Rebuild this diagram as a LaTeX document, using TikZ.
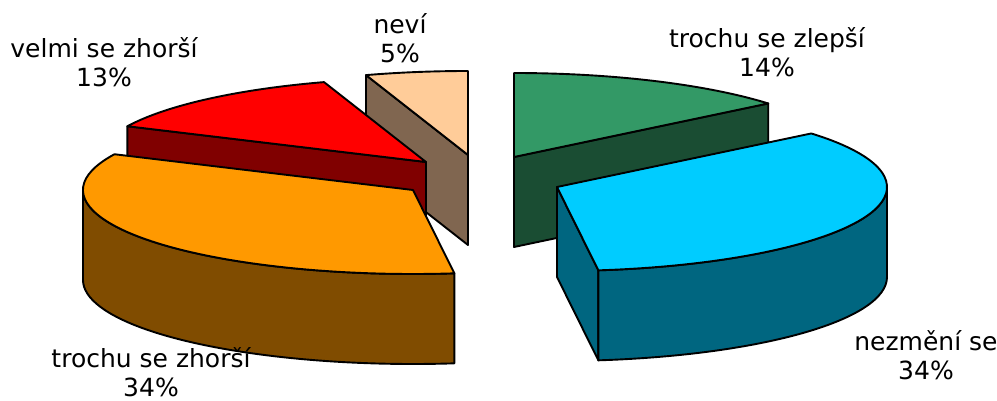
\documentclass[tikz,border=0pt]{standalone}
\usepackage{fontspec}
\setmainfont{DejaVu Sans}
\usepackage{tikz}
\usepackage{xcolor}
\usetikzlibrary{calc}

\definecolor{neviTop}{HTML}{FFCC99}
\definecolor{neviSide}{HTML}{806650}
\definecolor{velmiTop}{HTML}{FF0000}
\definecolor{velmiSide}{HTML}{800000}
\definecolor{zhorsiTop}{HTML}{FF9900}
\definecolor{zhorsiSide}{HTML}{804C00}
\definecolor{zlepsiTop}{HTML}{339966}
\definecolor{zlepsiSide}{HTML}{1A4D33}
\definecolor{nezmeniTop}{HTML}{00CCFF}
\definecolor{nezmeniSide}{HTML}{006680}

\tikzset{
  slice/.style={draw=black, line width=1.9pt, line join=round},
  rim/.style={x radius=330, y radius=84},
  pielabel/.style={align=center, inner sep=0pt, font=\fontsize{25}{29}\selectfont}
}

\begin{document}
\begin{tikzpicture}[x=1pt, y=1pt]
          \useasboundingbox (0,0) rectangle (997,-401);
          % slice centres
          \coordinate (nevi) at (468,-155);
          \coordinate (velmi) at (426,-162);
          \coordinate (zhorsi) at (413,-190);
          \coordinate (zlepsi) at (514,-157);
          \coordinate (nezmeni) at (557,-187);
          % nevi
          \filldraw[slice, fill=neviSide] (nevi) -- ++(108:330 and 84) -- ++(0,-90) -- ($(nevi)+(0,-90)$) -- cycle;
          \filldraw[slice, fill=neviTop] (nevi) -- ++(90:330 and 84) arc[rim, start angle=90, end angle=108] -- cycle;
          % velmi se zhorsi
          \filldraw[slice, fill=velmiSide] (velmi) -- ++(154.8:330 and 84) -- ++(0,-90) -- ($(velmi)+(0,-90)$) -- cycle;
          \filldraw[slice, fill=velmiTop] (velmi) -- ++(108:330 and 84) arc[rim, start angle=108, end angle=154.8] -- cycle;
          % trochu se zlepsi
          \filldraw[slice, fill=zlepsiSide] (zlepsi) -- ++(39.6:330 and 84) -- ++(0,-90) -- ($(zlepsi)+(0,-90)$) -- cycle;
          \filldraw[slice, fill=zlepsiTop] (zlepsi) -- ++(39.6:330 and 84) arc[rim, start angle=39.6, end angle=90] -- cycle;
          % trochu se zhorsi
          \filldraw[slice, fill=zhorsiSide] ($(zhorsi)+(180:330 and 84)$) arc[rim, start angle=180, end angle=277.2] -- ++(0,-90) arc[rim, start angle=277.2, end angle=180] -- cycle;
          \filldraw[slice, fill=zhorsiTop] (zhorsi) -- ++(154.8:330 and 84) arc[rim, start angle=154.8, end angle=277.2] -- cycle;
          % nezmeni se
          \filldraw[slice, fill=nezmeniSide] (nezmeni) -- ++(-82.8:330 and 84) -- ++(0,-90) -- ($(nezmeni)+(0,-90)$) -- cycle;
          \filldraw[slice, fill=nezmeniSide] ($(nezmeni)+(-82.8:330 and 84)$) arc[rim, start angle=-82.8, end angle=0] -- ++(0,-90) arc[rim, start angle=0, end angle=-82.8] -- cycle;
          \filldraw[slice, fill=nezmeniTop] (nezmeni) -- ++(-82.8:330 and 84) arc[rim, start angle=-82.8, end angle=39.6] -- cycle;
          % labels
          \node[pielabel] (lblvelmi) at (104,-62) {velmi se zhorší\\13\%};
          \node[pielabel] (lblnevi) at (400,-38) {neví\\5\%};
          \node[pielabel] (lblzlepsi) at (767,-52) {trochu se zlepší\\14\%};
          \node[pielabel] (lblzhorsi) at (151,-372) {trochu se zhorší\\34\%};
          \node[pielabel] (lblnezmeni) at (926,-355) {nezmění se\\34\%};
        \end{tikzpicture}
\end{document}
